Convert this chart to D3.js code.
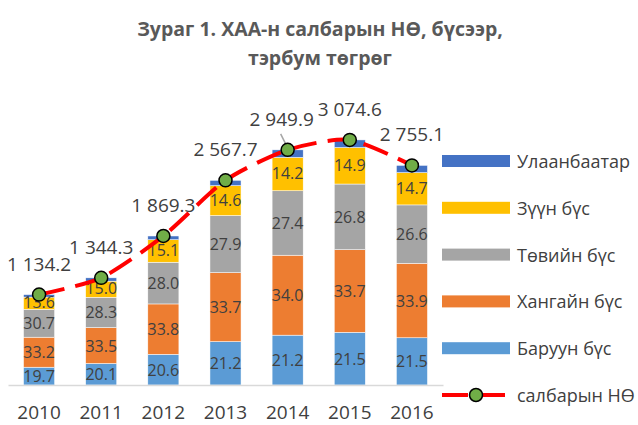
<!DOCTYPE html>
<html>
<head>
<meta charset="utf-8">
<script src="https://cdn.jsdelivr.net/npm/d3@7"></script>
<style>
  body { margin: 0; background: #fff; }
  svg { font-family: "Open Sans", sans-serif; }
</style>
</head>
<body>
<div id="chart"></div>
<script>
// years and totals (billion MNT)
var years = ["2010", "2011", "2012", "2013", "2014", "2015", "2016"];
var totals = [1134.2, 1344.3, 1869.3, 2567.7, 2949.9, 3074.6, 2755.1];

// regional shares, percent
var baruun = [19.7, 20.1, 20.6, 21.2, 21.2, 21.5, 21.5];
var khangai = [33.2, 33.5, 33.8, 33.7, 34.0, 33.7, 33.9];
var tuv = [30.7, 28.3, 28.0, 27.9, 27.4, 26.8, 26.6];
var zuun = [13.6, 15.0, 15.1, 14.6, 14.2, 14.9, 14.7];
var ub = [2.8, 3.1, 2.5, 2.6, 3.2, 3.1, 3.3];

var seriesNames = ["Баруун бүс", "Хангайн бүс", "Төвийн бүс", "Зүүн бүс", "Улаанбаатар"];
var lineName = "салбарын НӨ";

function init() {
    var w = 638, h = 425;
    var colors = ["#5B9BD5", "#ED7D31", "#A5A5A5", "#FFC000", "#4472C4"];
    var shares = [baruun, khangai, tuv, zuun, ub];

    var svg = d3.select("#chart").append("svg")
        .attr("width", w).attr("height", h);

    // title
    var title = svg.append("text")
        .attr("text-anchor", "middle")
        .attr("font-weight", "bold")
        .attr("font-size", "19.5px")
        .attr("fill", "#595959");
    title.append("tspan").attr("x", 320).attr("y", 36).text("Зураг 1. ХАА-н салбарын НӨ, бүсээр,");
    title.append("tspan").attr("x", 320).attr("y", 65).text("тэрбум төгрөг");

    var xScale = d3.scaleBand()
        .domain(years)
        .range([8, 443])
        .paddingInner(0.5)
        .paddingOuter(0.25);

    var yScale = d3.scaleLinear()
        .domain([0, 3500])
        .range([385, 106]);

    // table of segment values
    var table = years.map(function(y, i) {
        var row = { year: y };
        seriesNames.forEach(function(s, k) {
            row[s] = totals[i] * shares[k][i] / 100;
            row["p" + k] = shares[k][i];
        });
        return row;
    });

    var stack = d3.stack().keys(seriesNames)(table);

    var groups = svg.selectAll("g.series")
        .data(stack)
        .enter().append("g")
        .attr("class", "series")
        .attr("fill", function(d, k) { return colors[k]; });

    groups.selectAll("rect")
        .data(function(d) { return d; })
        .enter().append("rect")
        .attr("x", function(d) { return xScale(d.data.year); })
        .attr("y", function(d) { return yScale(d[1]); })
        .attr("width", xScale.bandwidth())
        .attr("height", function(d) { return yScale(d[0]) - yScale(d[1]); })
        .attr("stroke", "#fff")
        .attr("stroke-width", 0.5);

    // percent labels (not for Ulaanbaatar)
    stack.forEach(function(layer, k) {
        if (k == 4) return;
        svg.selectAll("text.p" + k)
            .data(layer)
            .enter().append("text")
            .attr("class", "p" + k)
            .attr("text-anchor", "middle")
            .attr("dominant-baseline", "central")
            .attr("x", function(d) { return xScale(d.data.year) + xScale.bandwidth() / 2; })
            .attr("y", function(d) { return (yScale(d[0]) + yScale(d[1])) / 2 - (k == 3 ? 1 : 0); })
            .attr("font-size", "16px")
            .attr("fill", "#404040")
            .text(function(d) { return d.data["p" + k].toFixed(1); });
    });

    // axis line
    var xAxis = d3.axisBottom(xScale).tickSize(0).tickPadding(21);
    var ax = svg.append("g")
        .attr("transform", "translate(0,385)")
        .call(xAxis);
    ax.select(".domain").attr("stroke", "#D9D9D9").attr("stroke-width", 1.5);
    ax.selectAll("text")
        .attr("font-family", "Open Sans, sans-serif")
        .attr("font-size", "19px")
        .attr("fill", "#404040");

    // total line
    var cx = function(d, i) { return xScale(years[i]) + xScale.bandwidth() / 2; };
    var line = d3.line()
        .x(cx)
        .y(function(d) { return yScale(d); })
        .curve(d3.curveCardinal.tension(0.3));

    svg.append("path")
        .datum(totals)
        .attr("d", line)
        .attr("fill", "none")
        .attr("stroke", "#FF0000")
        .attr("stroke-width", 4)
        .attr("stroke-dasharray", "26,11");

    var fmt = d3.formatLocale({ decimal: ".", thousands: " ", grouping: [3], currency: ["", ""] }).format(",.1f");

    // leader line for 2014 label
    svg.append("line")
        .attr("x1", cx(0, 4) - 7).attr("y1", yScale(totals[4]) - 16)
        .attr("x2", cx(0, 4) - 1).attr("y2", yScale(totals[4]) - 4)
        .attr("stroke", "#A6A6A6").attr("stroke-width", 1.5);

    svg.selectAll("circle.dot")
        .data(totals)
        .enter().append("circle")
        .attr("class", "dot")
        .attr("cx", cx)
        .attr("cy", function(d) { return yScale(d); })
        .attr("r", 6.5)
        .attr("fill", "#70AD47")
        .attr("stroke", "#000")
        .attr("stroke-width", 1.5);

    svg.selectAll("text.total")
        .data(totals)
        .enter().append("text")
        .attr("class", "total")
        .attr("text-anchor", "middle")
        .attr("x", function(d, i) { return cx(d, i) + (i == 4 ? -6 : 0); })
        .attr("y", function(d) { return yScale(d) - 24; })
        .attr("font-size", "19px")
        .attr("fill", "#404040")
        .text(function(d) { return fmt(d); });

    // legend
    var legendOrder = [4, 3, 2, 1, 0];
    var lg = svg.append("g").attr("transform", "translate(442,0)");
    legendOrder.forEach(function(k, j) {
        var yy = 161 + j * 46.8;
        lg.append("rect")
            .attr("x", 0).attr("y", yy - 6)
            .attr("width", 68).attr("height", 12)
            .attr("fill", colors[k]);
        lg.append("text")
            .attr("x", 75).attr("y", yy)
            .attr("dominant-baseline", "central")
            .attr("font-size", "18px")
            .attr("fill", "#404040")
            .text(seriesNames[k]);
    });
    var ly = 161 + 5 * 46.8;
    lg.append("line")
        .attr("x1", 0).attr("x2", 68).attr("y1", ly).attr("y2", ly)
        .attr("stroke", "#FF0000").attr("stroke-width", 4)
        .attr("stroke-dasharray", "26,11");
    lg.append("circle")
        .attr("cx", 34).attr("cy", ly).attr("r", 6.5)
        .attr("fill", "#70AD47").attr("stroke", "#000").attr("stroke-width", 1.5);
    lg.append("text")
        .attr("x", 75).attr("y", ly)
        .attr("dominant-baseline", "central")
        .attr("font-size", "18px")
        .attr("fill", "#404040")
        .text(lineName);
}

window.onload = init;
</script>
</body>
</html>
